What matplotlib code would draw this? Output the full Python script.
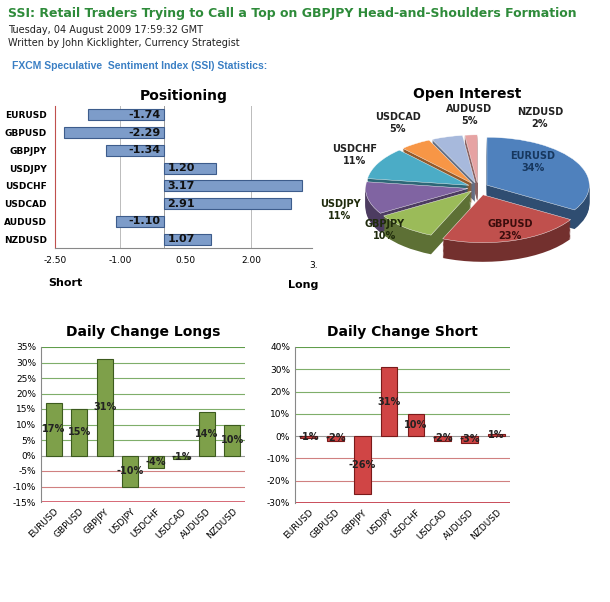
import matplotlib
matplotlib.use("Agg")
import matplotlib.pyplot as plt
import numpy as np

pairs = ["EURUSD", "GBPUSD", "GBPJPY", "USDJPY", "USDCHF", "USDCAD", "AUDUSD", "NZDUSD"]
positioning = [-1.74, -2.29, -1.34, 1.20, 3.17, 2.91, -1.10, 1.07]
oi_pct = [34, 23, 10, 11, 11, 5, 5, 2]
oi_colors = ["#4f81bd", "#c0504d", "#9bbb59", "#8064a2", "#4bacc6", "#f79646", "#a7b9dc", "#e6a3a3"]
longs = [17, 15, 31, -10, -4, -1, 14, 10]
shorts = [-1, -2, -26, 31, 10, -2, -3, 1]

W, H = 610, 602
fig = plt.figure(figsize=(6.10, 6.02), dpi=100)
fig.patch.set_facecolor("white")

def box(x0, y0, x1, y1):
    return [x0 / W, 1 - y1 / H, (x1 - x0) / W, (y1 - y0) / H]

fig.text(8 / W, 1 - 13 / H, "SSI: Retail Traders Trying to Call a Top on GBPJPY Head-and-Shoulders Formation",
         color="#2e8b3a", fontsize=9, fontweight="bold", va="center", family="DejaVu Sans")
fig.text(8 / W, 1 - 30 / H, "Tuesday, 04 August 2009 17:59:32 GMT", fontsize=7, va="center", color="#222")
fig.text(8 / W, 1 - 43 / H, "Written by John Kicklighter, Currency Strategist", fontsize=7, va="center", color="#222")
fig.text(12 / W, 1 - 66 / H, "FXCM Speculative  Sentiment Index (SSI) Statistics:", fontsize=7.5,
         fontweight="bold", color="#3a7fc4", va="center", family="Liberation Sans")

# Positioning
ax = fig.add_axes(box(55, 106, 312, 248))
y = np.arange(len(pairs))
ax.barh(y, positioning, height=0.62, color="#7d9cc9", edgecolor="#3d5c8c", linewidth=0.8)
for yi, v in zip(y, positioning):
    ax.text(0.08 if v > 0 else -0.08, yi, f"{v:.2f}", ha="left" if v > 0 else "right", va="center",
            fontsize=8, fontweight="bold", color="#111")
ax.set_xlim(-2.5, 3.4)
ax.set_ylim(len(pairs) - 0.5, -0.5)
ax.set_yticks(y)
ax.set_yticklabels(pairs, fontsize=6.5, fontweight="bold")
ax.set_xticks([-2.5, -1.0, 0.5, 2.0])
ax.set_xticklabels(["-2.50", "-1.00", "0.50", "2.00"], fontsize=6.5)
for xv in [-1.0, 2.0]:
    ax.axvline(xv, color="#bbbbbb", lw=0.7, zorder=0)
ax.axvline(0, color="#999999", lw=0.7, zorder=0)
for s in ["top", "right"]:
    ax.spines[s].set_visible(False)
ax.spines["left"].set_color("#c0504d")
ax.spines["bottom"].set_color("#888888")
ax.tick_params(length=0, pad=6)
ax.set_title("Positioning", fontsize=10, fontweight="bold", pad=4)
fig.text(309 / W, 1 - 266 / H, "3.", fontsize=6.5, va="center")
fig.text(48 / W, 1 - 283 / H, "Short", fontsize=8, fontweight="bold", va="center")
fig.text(288 / W, 1 - 285 / H, "Long", fontsize=8, fontweight="bold", va="center")

# Open interest pie (pseudo 3D)
axp = fig.add_axes(box(350, 100, 606, 298))
def darker(c, f=0.6):
    r, g, b = matplotlib.colors.to_rgb(c)
    return (r * f, g * f, b * f)
explode = [0.1] * len(oi_pct)
explode[1] = 0.16
yscale = 0.52
for k in range(16, 0, -1):
    axp.pie(oi_pct, colors=[darker(c) for c in oi_colors], startangle=90, counterclock=False,
            explode=explode, radius=1.0, center=(0, -0.025 * k),
            wedgeprops=dict(linewidth=0), frame=True)
axp.pie(oi_pct, colors=oi_colors, startangle=90, counterclock=False, explode=explode,
        radius=1.0, center=(0, 0), wedgeprops=dict(linewidth=0.3, edgecolor="white"), frame=True)
for w in axp.patches:
    w.set_transform(matplotlib.transforms.Affine2D().scale(1, yscale) + axp.transData)
axp.set_xlim(-1.25, 1.25)
axp.set_ylim(-1.2, 0.95)
axp.set_aspect("auto")
axp.axis("off")
fig.text(467 / W, 1 - 94 / H, "Open Interest", fontsize=10, fontweight="bold", ha="center", va="center")
labs = [(533, 162, "EURUSD\n34%", "#17375e"), (510, 230, "GBPUSD\n23%", "#3b0d0c"),
        (385, 230, "GBPJPY\n10%", "#1f2a0c"), (340, 210, "USDJPY\n11%", "#1f2a0c"),
        (355, 155, "USDCHF\n11%", "#222"), (398, 123, "USDCAD\n5%", "#222"),
        (469, 115, "AUDUSD\n5%", "#222"), (540, 118, "NZDUSD\n2%", "#222")]
for x0, y0, t, c in labs:
    fig.text(x0 / W, 1 - y0 / H, t, fontsize=7, fontweight="bold", ha="center", va="center",
             color=c, linespacing=1.3)

def change_chart(rect, vals, ylim, step, face, edge, title, topline, botline):
    a = fig.add_axes(rect)
    x = np.arange(len(pairs))
    a.bar(x, vals, width=0.62, color=face, edgecolor=edge, linewidth=0.8, zorder=3)
    for xi, v in zip(x, vals):
        a.text(xi, v / 2, f"{v}%", ha="center", va="center", fontsize=7, fontweight="bold",
               color="#222", zorder=4)
    a.set_ylim(*ylim)
    a.set_xlim(-0.5, len(pairs) - 0.5)
    ticks = np.arange(ylim[0], ylim[1] + 0.1, step)
    a.set_yticks(ticks)
    a.set_yticklabels([f"{int(t)}%" for t in ticks], fontsize=6.5)
    for t in ticks:
        col = "#7fae6a" if t > 0 else ("#d08080" if t < 0 else "#999999")
        a.axhline(t, color=col, lw=0.8, zorder=1)
    a.axhline(ylim[1], color=topline, lw=1.2, zorder=1)
    a.axhline(ylim[0], color=botline, lw=1.2, zorder=1)
    a.set_xticks(x)
    a.set_xticklabels(pairs, rotation=45, ha="right", rotation_mode="anchor", fontsize=6.5)
    for s in ["top", "right", "bottom"]:
        a.spines[s].set_visible(False)
    a.spines["left"].set_color("#888888")
    a.tick_params(length=0)
    a.set_title(title, fontsize=10, fontweight="bold", pad=8)

change_chart(box(41, 347, 245, 502), longs, (-15, 35), 5, "#7ea04a", "#3c5a1e",
             "Daily Change Longs", "#5a9a45", "#d05060")
change_chart(box(295, 347, 510, 503), shorts, (-30, 40), 10, "#d04545", "#7a1a1a",
             "Daily Change Short", "#5a9a45", "#c03040")

fig.savefig("out.png", dpi=100, facecolor="white")
